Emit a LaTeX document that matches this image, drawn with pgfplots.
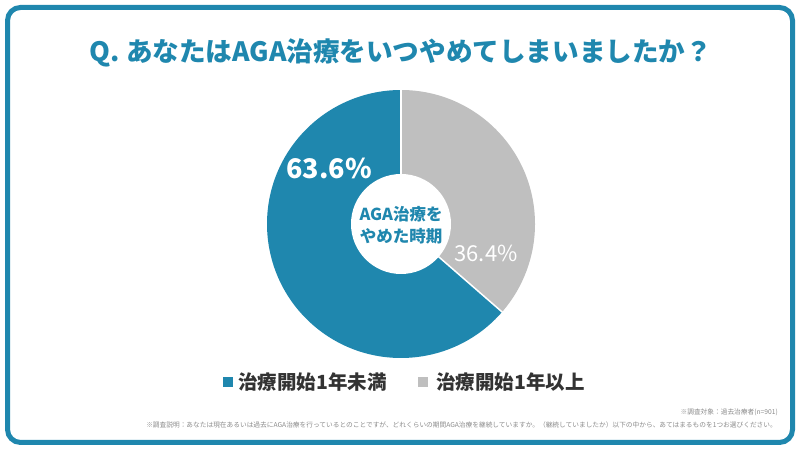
\documentclass[border=0pt]{standalone}
\usepackage{fontspec}
\setmainfont{Noto Sans CJK JP}
\usepackage{pgfplots}
\usepackage{pgfplotstable}
\pgfplotsset{compat=1.18}
\definecolor{cblue}{HTML}{1F87AE}
\definecolor{cgray}{HTML}{BFBFBF}
\definecolor{ctext}{HTML}{333333}
\definecolor{cnote}{HTML}{8A8A8A}
\pgfplotstableread{
id value
0 63.6
1 36.4
}\piedata
\newcommand{\fs}[1]{\fontsize{#1bp}{#1bp}\selectfont}
\begin{document}
\begin{tikzpicture}
\pgfplotstablegetelem{0}{value}\of\piedata \let\va\pgfplotsretval
\pgfplotstablegetelem{1}{value}\of\piedata \let\vb\pgfplotsretval
\pgfmathsetmacro{\angB}{90-\vb*3.6}
\pgfmathsetmacro{\angA}{\angB-\va*3.6}
\begin{axis}[
  at={(0,0)}, anchor=origin,
  width=800bp, height=450bp, scale only axis,
  xmin=0, xmax=800, ymin=0, ymax=450,
  hide axis, clip=false,
]
\addplot[draw=none, forget plot] coordinates {(0,0) (800,450)};
% frame
\draw[cblue, line width=5bp, rounded corners=13bp] (axis cs:7.5,7.5) rectangle (axis cs:792.5,442.5);
% title
\node[text=cblue, font=\fs{26.6}\bfseries] at (axis cs:401,397) {Q. あなたはAGA治療をいつやめてしまいましたか？};
% pie
\fill[cgray] (axis cs:401,226) -- ++(90:134bp) arc[start angle=90, end angle=\angB, radius=134bp] -- cycle;
\fill[cblue] (axis cs:401,226) -- ++(\angB:134bp) arc[start angle=\angB, end angle=\angA, radius=134bp] -- cycle;
\draw[white, line width=1.5bp] (axis cs:401,226) -- ++(90:135bp);
\draw[white, line width=1.5bp] (axis cs:401,226) -- ++(\angB:135bp);
\fill[white] (axis cs:401,226) circle[radius=50bp];
% labels
\node[text=white, font=\fs{27}\bfseries] at (axis cs:329,282) {\pgfmathprintnumber[fixed,precision=1,fixed zerofill,assume math mode=true]{\va}\%};
\node[text=white, font=\fs{22}] at (axis cs:486,197) {\pgfmathprintnumber[fixed,precision=1,fixed zerofill,assume math mode=true]{\vb}\%};
\node[text=cblue, font=\fs{16.5}\bfseries] at (axis cs:401,236) {AGA治療を};
\node[text=cblue, font=\fs{16.5}\bfseries] at (axis cs:401,214) {やめた時期};
% legend
\fill[cblue] (axis cs:223,62.5) rectangle (axis cs:233,72.5);
\node[anchor=west, text=ctext, font=\fs{19.5}\bfseries, inner sep=0pt] at (axis cs:238,67.5) {治療開始1年未満};
\fill[cgray] (axis cs:418,62.5) rectangle (axis cs:428,72.5);
\node[anchor=west, text=ctext, font=\fs{19.5}\bfseries, inner sep=0pt] at (axis cs:436,67.5) {治療開始1年以上};
% notes
\node[anchor=east, text=cnote, font=\fs{6.7}, inner sep=0pt] at (axis cs:778,38) {※調査対象：過去治療者(n=901)};
\node[anchor=east, text=cnote, font=\fs{6.7}, inner sep=0pt] at (axis cs:777,25) {※調査説明：あなたは現在あるいは過去にAGA治療を行っているとのことですが、どれくらいの期間AGA治療を継続していますか。（継続していましたか）以下の中から、あてはまるものを1つお選びください。};
\end{axis}
\end{tikzpicture}
\end{document}
